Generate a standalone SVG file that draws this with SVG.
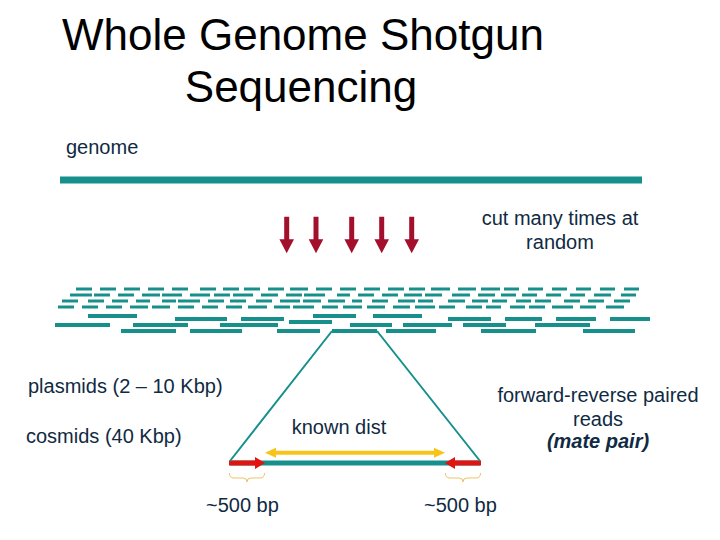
<svg xmlns="http://www.w3.org/2000/svg" width="720" height="540" viewBox="0 0 720 540">
<defs>
<style>
.title{font-family:"Liberation Sans",Arial,sans-serif;font-size:44px;fill:#000}
.lbl{font-family:"Liberation Sans",Arial,sans-serif;font-size:20px;fill:#102a43}
.teal{stroke:#17908c;fill:none}
.d3{stroke:#17908c;stroke-width:3;fill:none}
.d4{stroke:#17908c;stroke-width:4;fill:none}
.cut{fill:#a3102c}
.red{fill:#e3140f}
.brace{stroke:#e9c46a;stroke-width:1;fill:none}
</style>
</defs>
<rect width="720" height="540" fill="#fff"/>
<g id="title">
<text class="title" x="62" y="50">Whole Genome Shotgun</text>
<text class="title" x="301" y="102" text-anchor="middle">Sequencing</text>
</g>
<g id="genome">
<text class="lbl" x="66" y="154">genome</text>
<rect x="60" y="176.5" width="582" height="7" fill="#17908c"/>
</g>
<g id="cut">
<text class="lbl" x="560" y="225" text-anchor="middle">cut many times at</text>
<text class="lbl" x="560" y="249" text-anchor="middle">random</text>
<path class="cut" d="M284.2,216.7h5v22.6h4.8l-7.3,14l-7.3,-14h4.8z"/>
<path class="cut" d="M313.5,216.7h5v22.6h4.8l-7.3,14l-7.3,-14h4.8z"/>
<path class="cut" d="M349.2,216.7h5v22.6h4.8l-7.3,14l-7.3,-14h4.8z"/>
<path class="cut" d="M379.2,216.7h5v22.6h4.8l-7.3,14l-7.3,-14h4.8z"/>
<path class="cut" d="M409.2,216.7h5v22.6h4.8l-7.3,14l-7.3,-14h4.8z"/>
</g>
<g id="fragments">
<path class="d3" d="M76,289H92M100,289H116M124,289H140M148,289H164M172,289H188M200,289H216M223,289H239M244,289H260M268,289H284M290,289H308M316,289H332M340,289H356M364,289H380M388,289H404M409,289H425M431,289H450M458,289H476M481,289H500M504,289H519M528,289H543M552,289H567M576,289H591M600,289H615M624,289H639"/>
<path class="d3" d="M70,295H92M94,295H110M118,295H134M142,295H160M162,295H182M190,295H210M214,295H230M233,295H253M261,295H278M286,295H302M304,295H325M337,295H350M358,295H374M382,295H398M404,295H422M425,295H442M452,295H470M478,295H495M501,295H516M522,295H537M546,295H561M570,295H585M594,295H611M621,295H636"/>
<path class="d3" d="M62,301H78M88,301H104M112,301H128M136,301H150M162,301H176M178,301H200M208,301H224M230,301H246M256,301H272M280,301H300M303,301H321M328,301H345M352,301H362M372,301H388M398,301H415M418,301H433M448,301H465M472,301H488M492,301H507M516,301H531M535,301H551M564,301H580M588,301H604M614,301H630"/>
<path class="d3" d="M58,307H74M82,307H98M106,307H122M130,307H148M152,307H170M178,307H194M202,307H218M226,307H242M248,307H267M274,307H290M293,307H314M322,307H338M343,307H362M367,307H385M393,307H410M415,307H435M439,307H455M466,307H482M486,307H501M510,307H525M529,307H545M552,307H573M580,307H596M606,307H624"/>
<path class="d4" d="M88,316H137M313,316H356M373,316H422"/>
<path class="d4" d="M175,319H227M241,319H284M448,319H491M505,319H542M556,319H596M610,319H650"/>
<path class="d4" d="M289,322H332"/>
<path class="d4" d="M55,325H110M133,325H188M220,325H278M350,325H392M403,325H452M463,325H506M535,325H590"/>
<path class="d4" d="M121,331H176M190,331H242M277,331H320M386,331H436M481,331H536M583,331H635"/>
</g>
<g id="mate-pair">
<path class="d4" d="M332,331H377"/>
<rect x="230" y="460.5" width="250" height="5" fill="#17908c"/>
<path class="red" d="M229,460.5h26v-3.5l10,6l-10,6v-3.5h-26z"/>
<path class="red" d="M481,460.5h-26v-3.5l-10,6l10,6v-3.5h26z"/>
<path class="brace" d="M229.5,473Q229.5,478 234,478H243Q247,478 247,482Q247,478 251,478H260Q264.5,478 264.5,473"/>
<path class="brace" d="M445.5,473Q445.5,478 450,478H459Q463,478 463,482Q463,478 467,478H476Q480.5,478 480.5,473"/>
</g>
<g id="connectors">
<path class="teal" stroke-width="2" d="M332,331L230,461M377,331L480,461"/>
<path d="M274,452.7H436" stroke="#f7c41a" stroke-width="4" fill="none"/>
<path d="M265,452.7l11,-5v10z" fill="#f7c41a"/>
<path d="M445,452.7l-11,-5v10z" fill="#f7c41a"/>
</g>
<g id="labels">
<text class="lbl" x="28" y="393">plasmids (2 – 10 Kbp)</text>
<text class="lbl" x="26" y="443">cosmids (40 Kbp)</text>
<text class="lbl" x="339" y="434" text-anchor="middle">known dist</text>
<text class="lbl" x="598" y="402" text-anchor="middle">forward-reverse paired</text>
<text class="lbl" x="598" y="426" text-anchor="middle">reads</text>
<text class="lbl" x="598" y="448" text-anchor="middle" font-weight="bold" font-style="italic">(mate pair)</text>
<text class="lbl" x="206" y="512">~500 bp</text>
<text class="lbl" x="424" y="512">~500 bp</text>
</g>
</svg>
